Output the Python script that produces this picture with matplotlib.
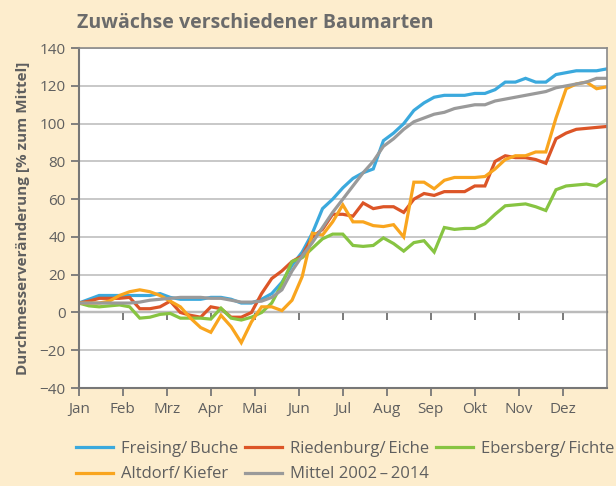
import numpy as np
import matplotlib.pyplot as plt

plt.rcParams['font.family'] = ['Open Sans', 'DejaVu Sans']

months = ['Jan', 'Feb', 'Mrz', 'Apr', 'Mai', 'Jun', 'Jul', 'Aug', 'Sep', 'Okt', 'Nov', 'Dez']

# weekly values, % zum Mittel
freising = [5, 7, 9, 9, 9, 9, 9, 9, 10, 8, 7, 7, 7, 8, 8, 7, 5, 5, 7, 10, 16, 25, 32,
            42, 55, 60, 66, 71, 74, 76, 91, 95, 100, 107, 111, 114, 115, 115, 115, 116, 116,
            118, 122, 122, 124, 122, 122, 126, 127, 128, 128, 128, 129]
riedenburg = [5, 6, 7.5, 7.5, 7.5, 8, 2, 2, 3, 6, 0, -1.5, -2.5, 3, 2, -2.5, -2.5, 0, 10, 18, 22, 27, 30,
              40, 44, 52, 52, 51, 58, 55, 56, 56, 53, 60, 63, 62, 64, 64, 64, 67, 67,
              80, 83, 82, 82, 81, 79, 92, 95, 97, 97.5, 98, 98.5]
ebersberg = [5, 3.5, 3, 3.5, 4, 3, -3, -2.5, -1, -0.5, -3, -3, -3, -3.5, 2.3, -3, -4, -2.5, 0, 5, 15, 27, 29,
             34, 39, 41.5, 41.5, 35.5, 35, 35.5, 39.5, 36.5, 32.5, 37, 38, 32, 45, 44, 44.5, 44.5, 47,
             52, 56.5, 57, 57.5, 56, 54, 65, 67, 67.5, 68, 67, 70.5]
altdorf = [5, 5, 5, 6, 9, 11, 12, 11, 9, 6, 3, -3, -8, -10.5, -1.5, -7.5, -16, -5, 3, 3, 1, 6.5, 19,
           42, 41, 48, 57, 48, 48, 46, 45.5, 46.5, 40, 69, 69, 65.5, 70, 71.5, 71.5, 71.5, 72,
           76, 81, 83, 83, 85, 85, 103, 118.5, 121, 122, 118.5, 119.5]
mittel = [5, 5, 5, 5, 5, 5, 5.5, 6.5, 7, 7.5, 8, 8, 8, 7.5, 7.5, 6.5, 5.5, 5.5, 6, 8, 12, 22, 30,
          37, 45, 53, 60, 67, 74, 80, 88, 92, 97, 101, 103, 105, 106, 108, 109, 110, 110,
          112, 113, 114, 115, 116, 117, 119, 120, 121, 122, 124, 124]

series = [
    ('Freising/\u2009Buche', freising, '#3ba9dd'),
    ('Riedenburg/\u2009Eiche', riedenburg, '#dc5527'),
    ('Ebersberg/\u2009Fichte', ebersberg, '#87c442'),
    ('Altdorf/\u2009Kiefer', altdorf, '#f9a51e'),
    ('Mittel 2002\u2009\u2013\u20092014', mittel, '#9a9a9a'),
]

bg = '#fdedcd'
txt = '#5f5f5f'

fig = plt.figure(figsize=(6.16, 4.86), dpi=100, facecolor=bg)
ax = fig.add_axes([0.128, 0.2016, 0.857, 0.6994])
ax.set_facecolor('white')

x = np.linspace(0, 12, len(freising))
handles = {}
for name, vals, col in series:
    ln, = ax.plot(x, vals, color=col, lw=2.3, solid_joinstyle='miter', label=name)
    handles[name] = ln

ax.set_xlim(0, 12)
ax.set_ylim(-40, 140)
ax.set_yticks(np.arange(-40, 141, 20))
ax.set_yticklabels([str(v).replace('-', '\u2212') for v in range(-40, 141, 20)])
ax.set_xticks(np.arange(12))
ax.set_xticklabels(months)
ax.yaxis.grid(True, color='#c4c4c4', lw=1.3)
ax.set_axisbelow(True)

ax.tick_params(axis='both', colors='#777777', labelcolor=txt, labelsize=11, length=6, width=1.3)
ax.tick_params(axis='x', pad=4)
for s in ['left', 'bottom']:
    ax.spines[s].set_color('#777777')
    ax.spines[s].set_linewidth(1.5)
for s in ['top', 'right']:
    ax.spines[s].set_color('#8a8a8a')
    ax.spines[s].set_linewidth(1.2)

# zero line with month ticks
zero = ax.secondary_xaxis(40 / 180)
zero.set_xticks(np.arange(12))
zero.set_xticklabels([])
zero.tick_params(colors='#6f6f6f', length=6, width=1.3, direction='out')
zero.spines['bottom'].set_color('#6f6f6f')
zero.spines['bottom'].set_linewidth(1.6)

ax.set_ylabel('Durchmesserveränderung [% zum Mittel]', fontsize=11, fontweight='bold', color=txt, labelpad=7)

fig.text(0.125, 0.943, 'Zuwächse verschiedener Baumarten', fontsize=14, fontweight='bold', color='#6b6b6b')

order = ['Freising/\u2009Buche', 'Altdorf/\u2009Kiefer', 'Riedenburg/\u2009Eiche',
         'Mittel 2002\u2009\u2013\u20092014', 'Ebersberg/\u2009Fichte']
leg = fig.legend([handles[n] for n in order], order, ncol=3, loc='upper left',
                 bbox_to_anchor=(0.105, 0.116), frameon=False, fontsize=12,
                 handlelength=2.2, handletextpad=0.5, columnspacing=0.4, labelspacing=0.55,
                 borderpad=0.2)
for t in leg.get_texts():
    t.set_color(txt)

fig.savefig('out.png', dpi=100, facecolor=bg)
